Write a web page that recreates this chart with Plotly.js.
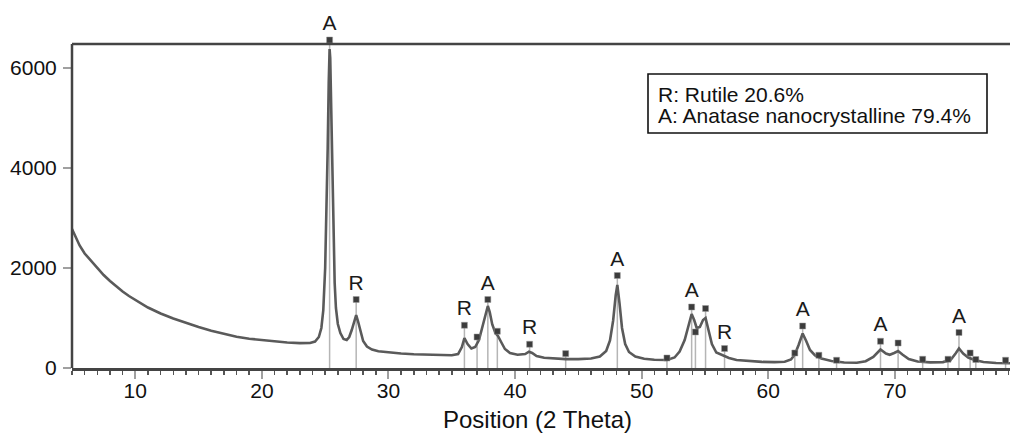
<!DOCTYPE html>
<html>
<head>
<meta charset="utf-8">
<script src="https://cdn.plot.ly/plotly-3.0.1.min.js"></script>
<style>
  html, body { margin: 0; padding: 0; background: #fff; }
  #plot { width: 1010px; height: 438px; }
</style>
</head>
<body>
<div id="plot"></div>
<script>
// Measured XRD pattern: diffraction angle (degrees 2θ) and intensity (counts)
const twoTheta = [
  5.0, 5.3, 5.6, 6.0, 6.5, 7.0, 7.5, 8.0, 8.5, 9.0, 9.5, 10.0, 10.5, 11.0, 11.5, 12.0,
  13.0, 14.0, 15.0, 16.0, 17.0, 18.0, 19.0, 20.0, 21.0, 22.0, 23.0, 23.8, 24.2, 24.5,
  24.7, 24.85, 25.0, 25.1, 25.2, 25.28, 25.35, 25.4, 25.48, 25.56, 25.65, 25.75, 25.85,
  26.0, 26.2, 26.45, 26.7, 26.9, 27.1, 27.3, 27.45, 27.6, 27.8, 28.0, 28.3, 28.7, 29.2,
  30.0, 31.0, 32.0, 33.0, 34.0, 35.0, 35.5, 35.8, 36.0, 36.25, 36.55, 36.85, 37.15,
  37.45, 37.7, 37.85, 38.0, 38.2, 38.45, 38.65, 38.9, 39.2, 39.6, 40.2, 40.8, 41.1,
  41.35, 41.7, 42.3, 43.0, 44.0, 45.0, 46.0, 46.7, 47.2, 47.5, 47.75, 47.95, 48.08,
  48.25, 48.45, 48.7, 49.0, 49.5, 50.2, 51.0, 52.0, 52.6, 53.0, 53.4, 53.7, 53.95,
  54.15, 54.35, 54.6, 54.85, 55.05, 55.3, 55.55, 55.9, 56.3, 56.55, 56.9, 57.5, 58.5,
  59.5, 60.5, 61.3, 61.8, 62.1, 62.4, 62.72, 63.0, 63.3, 63.7, 64.2, 65.0, 66.0, 67.0,
  67.7, 68.3, 68.87, 69.3, 69.6, 69.95, 70.26, 70.6, 71.1, 71.8, 72.8, 73.8, 74.4,
  74.8, 75.07, 75.4, 75.8, 76.3, 77.0, 78.0, 79.1
];
const counts = [
  2780, 2600, 2450, 2290, 2140, 1990, 1860, 1740, 1630, 1530, 1440, 1360, 1280, 1210, 1150, 1090,
  990, 900, 820, 745, 680, 625, 585, 555, 530, 510, 498, 500, 530, 620,
  800, 1150, 2000, 3000, 4400, 5700, 6380, 6200, 5000, 3800, 2600, 1700, 1200,
  880, 700, 580, 560, 620, 760, 960, 1060, 930, 700, 540, 430, 370, 335,
  310, 290, 275, 265, 258, 255, 280, 420, 600, 480, 390, 420, 560,
  850, 1150, 1240, 1120, 870, 700, 640, 520, 380, 300, 265, 280, 325,
  300, 240, 205, 188, 178, 178, 190, 230, 340, 550, 950, 1450, 1660,
  1300, 800, 480, 320, 230, 185, 165, 160, 210, 330, 560, 850, 1080,
  960, 800, 820, 960, 1000, 760, 480, 310, 265, 245, 200, 160, 135,
  122, 118, 125, 170, 270, 460, 690, 540, 360, 250, 190, 140, 110, 105,
  135, 220, 370, 290, 265, 300, 340, 270, 180, 130, 112, 118, 160,
  290, 390, 290, 210, 160, 120, 100, 95
];

// Reference reflections: position, marker height and phase letter (R = rutile, A = anatase)
const refPos = [
  25.35, 27.45, 36.0, 37.0, 37.85, 38.6, 41.15, 44.0, 48.08, 52.0, 53.95, 54.25, 55.05,
  56.55, 62.1, 62.72, 64.0, 65.4, 68.87, 70.26, 72.2, 74.2, 75.07, 75.95, 76.4, 78.75
];
const refHeight = [
  6560, 1370, 855, 620, 1370, 735, 475, 288, 1850, 200, 1220, 720, 1190,
  390, 300, 840, 255, 155, 535, 500, 175, 175, 710, 300, 170, 155
];
const refPhase = [
  "A", "R", "R", "", "A", "", "R", "", "A", "", "A", "", "",
  "R", "", "A", "", "", "A", "", "", "", "A", "", "", ""
];

// Phase composition shown in the key box
const phaseKey = ["R: Rutile 20.6%", "A: Anatase nanocrystalline 79.4%"];

const xLabel = "Position (2 Theta)";
const yTicks = [0, 2000, 4000, 6000];
const xTicks = [10, 20, 30, 40, 50, 60, 70];

// Frame: the boxed area ends at FRAME_TOP; a little head-room above it keeps the
// top reflection marker and its letter inside the plotting range.
const FRAME_TOP = 6480;
const Y_MAX = 6600;
const X_RANGE = [5, 79.1];

// Stick lines from the baseline up to each reference marker
const stickX = [], stickY = [];
refPos.forEach((p, i) => {
  stickX.push(p, p, null);
  stickY.push(0, Math.min(refHeight[i], FRAME_TOP), null);
});

const FONT = "Liberation Sans, Arial, Helvetica, sans-serif";
const AXIS_COLOR = "#444";

const traces = [
  {
    x: stickX, y: stickY, type: "scatter", mode: "lines",
    line: { color: "#b5b5b5", width: 1.5 },
    hoverinfo: "skip", showlegend: false
  },
  {
    x: twoTheta, y: counts, type: "scatter", mode: "lines",
    line: { color: "#5a5a5a", width: 2.6 },
    showlegend: false
  },
  {
    x: refPos, y: refHeight, type: "scatter", mode: "markers+text",
    text: refPhase, textposition: "top center",
    textfont: { family: FONT, size: 21, color: "#1a1a1a" },
    marker: { symbol: "square", size: 6, color: "#3c3c3c",
              line: { color: "#9a9a9a", width: 0.5 } },
    cliponaxis: false, showlegend: false
  }
];

// key box geometry in paper units (plot area: x 72..1010 px, y 38..368 px)
const px2xp = px => (px - 72) / 938;
const px2yp = py => (368 - py) / 330;

const layout = {
  width: 1010, height: 438,
  margin: { l: 72, r: 0, t: 38, b: 70 },
  paper_bgcolor: "#fff", plot_bgcolor: "#fff",
  font: { family: FONT, size: 21, color: "#111" },
  showlegend: false,
  xaxis: {
    range: X_RANGE,
    tickvals: xTicks, ticktext: xTicks.map(String),
    ticks: "outside", ticklen: 8, tickwidth: 2, tickcolor: "#a0a0a0",
    minor: { dtick: 1, ticks: "outside", ticklen: 4, tickwidth: 1.5, tickcolor: "#555" },
    showline: true, linecolor: AXIS_COLOR, linewidth: 2.5,
    showgrid: false, zeroline: false,
    tickfont: { family: FONT, size: 21, color: "#111" },
    ticklabelstandoff: -6
  },
  yaxis: {
    range: [0, Y_MAX],
    tickvals: yTicks, ticktext: yTicks.map(String),
    ticks: "outside", ticklen: 8, tickwidth: 2, tickcolor: "#a0a0a0",
    showline: false,
    showgrid: false, zeroline: false,
    tickfont: { family: FONT, size: 21, color: "#111" },
    ticklabelstandoff: 2
  },
  shapes: [
    // left axis line and top frame line, both ending at FRAME_TOP
    { type: "line", xref: "paper", yref: "y", x0: 0, x1: 0, y0: 0, y1: FRAME_TOP,
      line: { color: AXIS_COLOR, width: 2.5 } },
    { type: "line", xref: "paper", yref: "y", x0: 0, x1: 1, y0: FRAME_TOP, y1: FRAME_TOP,
      line: { color: AXIS_COLOR, width: 2.5 } },
    // key box
    { type: "rect", xref: "paper", yref: "paper",
      x0: px2xp(648), x1: px2xp(987), y0: px2yp(133), y1: px2yp(74),
      line: { color: "#111", width: 1.6 }, fillcolor: "#fff", layer: "above" }
  ],
  annotations: [
    {
      xref: "paper", yref: "paper", x: 0.496, y: px2yp(420),
      xanchor: "center", yanchor: "middle", showarrow: false,
      text: xLabel, font: { family: FONT, size: 24, color: "#111" }
    },
    ...phaseKey.map((t, i) => ({
      xref: "paper", yref: "paper", x: px2xp(656), y: px2yp(94 + 22 * i),
      xanchor: "left", yanchor: "middle", showarrow: false, align: "left",
      text: t, font: { family: FONT, size: 21, color: "#111" }
    }))
  ]
};

Plotly.newPlot("plot", traces, layout, { staticPlot: true, displayModeBar: false });
</script>
</body>
</html>
